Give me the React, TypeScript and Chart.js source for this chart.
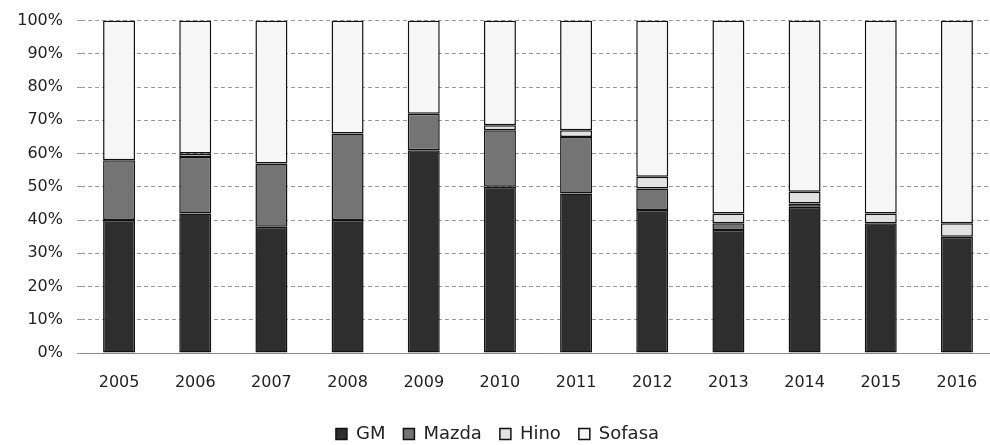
import React, { useEffect, useRef } from "react";
import { Chart, registerables } from "chart.js";

Chart.register(...registerables);

const years = ["2005", "2006", "2007", "2008", "2009", "2010", "2011", "2012", "2013", "2014", "2015", "2016"];
const gm = [40, 42, 38, 40, 61, 50, 48, 43, 37, 44, 39, 35];
const mazda = [18, 17, 19, 26, 11, 17, 17, 6.5, 2, 1, 0, 0];
const hino = [0, 1, 0, 0, 0, 1.5, 2, 3.5, 3, 3.5, 3, 4];
const sofasa = [42, 40, 43, 34, 28, 31.5, 33, 47, 58, 51.5, 58, 61];
const yTicks = [0, 10, 20, 30, 40, 50, 60, 70, 80, 90, 100];

const FONT = "'DejaVu Sans', sans-serif";

export default function App() {
  const ref = useRef<HTMLCanvasElement | null>(null);

  useEffect(() => {
    if (!ref.current) return;
    const mk = (label: string, data: number[], color: string) => ({
      label,
      data,
      backgroundColor: color,
      borderColor: "#111111",
      borderWidth: 1.5,
      borderSkipped: false as const,
      categoryPercentage: 1,
      barPercentage: 0.42,
    });
    const chart = new Chart(ref.current, {
      type: "bar",
      data: {
        labels: years,
        datasets: [
          mk("GM", gm, "#2e2e2e"),
          mk("Mazda", mazda, "#747474"),
          mk("Hino", hino, "#e2e2e2"),
          mk("Sofasa", sofasa, "#f6f6f6"),
        ],
      },
      options: {
        animation: false,
        responsive: false,
        devicePixelRatio: 1,
        layout: { padding: { top: 9, right: 5, left: 0, bottom: 0 } },
        plugins: {
          tooltip: { enabled: false },
          legend: {
            position: "bottom",
            labels: {
              boxWidth: 11,
              boxHeight: 11,
              padding: 18,
              color: "#222",
              font: { family: FONT, size: 18 },
            },
          },
        },
        scales: {
          x: {
            stacked: true,
            grid: { display: false, drawTicks: false },
            border: { display: true, color: "#888", dash: [4, 2], width: 1 },
            ticks: { color: "#222", padding: 20, font: { family: FONT, size: 16 } },
            afterFit: (s: any) => {
              s.height = 54;
            },
          },
          y: {
            stacked: true,
            min: 0,
            max: 100,
            afterBuildTicks: (s: any) => {
              s.ticks = yTicks.map((v) => ({ value: v }));
            },
            ticks: {
              color: "#222",
              padding: 14,
              font: { family: FONT, size: 16 },
              callback: (v: any) => v + "%",
            },
            grid: {
              color: "#999",
              tickLength: 4,
              lineWidth: 1,
            },
            border: { display: false, dash: [4, 3] },
            afterFit: (s: any) => {
              s.width = 81;
            },
          },
        },
      },
    });
    return () => chart.destroy();
  }, []);

  return (
    <div
      style={{
        position: "fixed",
        left: 0,
        top: 0,
        width: 990,
        height: 445,
        overflow: "hidden",
        background: "#fff",
      }}
    >
      <canvas
        ref={ref}
        width={1000}
        height={456}
        style={{ width: 1000, height: 456, display: "block", marginTop: -3 }}
      />
    </div>
  );
}
